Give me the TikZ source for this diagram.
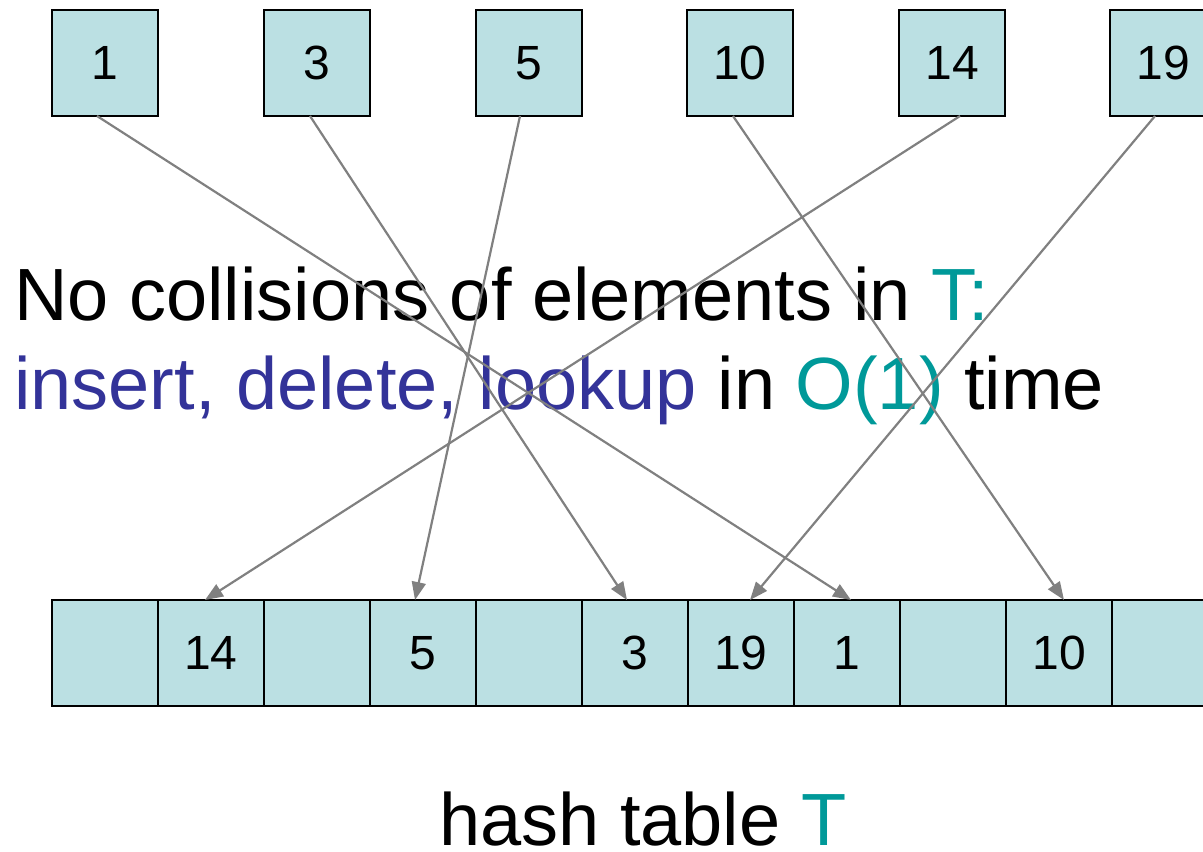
\documentclass[tikz,border=0pt]{standalone}
\usepackage{fontspec}
\setmainfont{Liberation Sans}
\usetikzlibrary{arrows.meta,calc}
\definecolor{cellfill}{HTML}{BBE0E3}
\definecolor{linegray}{HTML}{808080}
\definecolor{opblue}{HTML}{333399}
\definecolor{tteal}{HTML}{009999}
\tikzset{
  cellbox/.style={draw=black,line width=2pt,fill=cellfill,minimum width=106pt,minimum height=106pt,inner sep=0pt,outer sep=0pt,font=\fontsize{48}{56}\selectfont},
  maparrow/.style={draw=linegray,line width=2.2pt,-{Triangle[length=18pt,width=14pt]}},
  bigtext/.style={anchor=base west,inner sep=0pt,font=\fontsize{74}{88}\selectfont}
}
\begin{document}
\begin{tikzpicture}[x=1pt,y=-1pt]
\useasboundingbox (0,0) rectangle (1203,852);
\clip (0,0) rectangle (1203,852);
% keys
\node[cellbox] (k1) at (105,63) {1};
\node[cellbox] (k3) at (317,63) {3};
\node[cellbox] (k5) at (529,63) {5};
\node[cellbox] (k10) at (740,63) {10};
\node[cellbox] (k14) at (952,63) {14};
\node[cellbox] (k19) at (1163,63) {19};
% table
\foreach \i/\t in {0/,1/14,2/,3/5,4/,5/3,6/19,7/1,8/,9/10,10/}{
  \node[cellbox] (c\i) at ({105+106*\i},653) {\t};
}
% text
\node[bigtext] (l1) at (14,320) {No collisions of elements in \textcolor{tteal}{T:}};
\node[bigtext] (l2) at (14,409) {\textcolor{opblue}{insert, delete, lookup} in \textcolor{tteal}{O(1)} time};
\node[bigtext] (cap) at (439,845) {hash table \textcolor{tteal}{T}};
% arrows
\draw[maparrow] ($(k1.south)+(-8,0)$) -- ($(c7.north)+(4,0)$);
\draw[maparrow] ($(k3.south)+(-7,0)$) -- ($(c5.north)+(-8,0)$);
\draw[maparrow] ($(k5.south)+(-9,0)$) -- ($(c3.north)+(-8,0)$);
\draw[maparrow] ($(k10.south)+(-7,0)$) -- ($(c9.north)+(5,0)$);
\draw[maparrow] ($(k14.south)+(8,0)$) -- ($(c1.north)+(-6,0)$);
\draw[maparrow] ($(k19.south)+(-8,0)$) -- ($(c6.north)+(9,0)$);
\end{tikzpicture}
\end{document}
